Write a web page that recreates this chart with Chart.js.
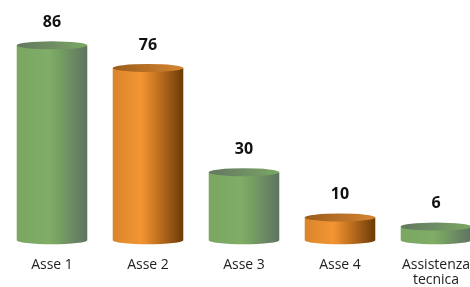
<!DOCTYPE html>
<html><head><meta charset="utf-8">
<script src="https://cdn.jsdelivr.net/npm/chart.js@4/dist/chart.umd.min.js"></script>
<style>
html,body{margin:0;padding:0;background:#fff;overflow:hidden;}
#wrap{width:470px;height:287px;overflow:hidden;position:relative;}
#box{width:490px;height:305px;position:absolute;left:0;top:0;}
</style></head><body>
<div id="wrap"><div id="box"><canvas id="c"></canvas></div></div>
<script>
const categories = [["Asse 1"], ["Asse 2"], ["Asse 3"], ["Asse 4"], ["Assistenza", "tecnica"]];
const values = [86, 76, 30, 10, 6];
const colorKinds = ["green", "orange", "green", "orange", "green"];

const palettes = {
  green: {
    side: [[0, "#79a660"], [0.45, "#80ad67"], [0.6, "#76a062"], [1, "#5f7262"]],
    top: [[0, "#62785f"], [0.5, "#6f8e63"], [1, "#7aa863"]]
  },
  orange: {
    side: [[0, "#d9852c"], [0.4, "#f49534"], [0.65, "#c0701f"], [1, "#6a3a06"]],
    top: [[0, "#9a5c1c"], [0.5, "#b87026"], [1, "#d5862f"]]
  }
};

function grad(ctx, x0, x1, stops) {
  const g = ctx.createLinearGradient(x0, 0, x1, 0);
  stops.forEach(s => g.addColorStop(s[0], s[1]));
  return g;
}

const cylinderPlugin = {
  id: 'cylinders',
  afterDatasetsDraw(chart) {
    const ctx = chart.ctx;
    const meta = chart.getDatasetMeta(0);
    const ry = 4;
    meta.data.forEach((bar, i) => {
      const p = palettes[colorKinds[i]];
      const w = bar.width;
      const l = bar.x - w / 2, r = bar.x + w / 2;
      const rx = w / 2;
      const top = bar.y, base = bar.base;
      ctx.save();
      ctx.beginPath();
      ctx.moveTo(l, top);
      ctx.lineTo(l, base);
      ctx.ellipse(bar.x, base, rx, ry, 0, Math.PI, 0, true);
      ctx.lineTo(r, top);
      ctx.closePath();
      ctx.fillStyle = grad(ctx, l, r, p.side);
      ctx.fill();
      ctx.beginPath();
      ctx.ellipse(bar.x, top, rx, ry, 0, 0, Math.PI * 2);
      ctx.fillStyle = grad(ctx, l, r, p.top);
      ctx.fill();
      ctx.fillStyle = "#111";
      ctx.font = "bold 16px 'Open Sans', sans-serif";
      ctx.textAlign = "center";
      ctx.textBaseline = "middle";
      ctx.fillText(String(values[i]), bar.x, top - 23);
      ctx.restore();
    });
  }
};

new Chart(document.getElementById('c'), {
  type: 'bar',
  data: {
    labels: categories,
    datasets: [{
      data: values,
      backgroundColor: 'rgba(0,0,0,0)',
      borderWidth: 0,
      barPercentage: 0.735,
      categoryPercentage: 1
    }]
  },
  options: {
    responsive: true,
    maintainAspectRatio: false,
    animation: false,
    layout: { padding: { left: 4, right: 6, top: 0, bottom: 0 } },
    plugins: { legend: { display: false }, tooltip: { enabled: false } },
    scales: {
      x: {
        grid: { display: false, drawTicks: false },
        border: { display: false },
        ticks: {
          color: "#222",
          font: { family: "'Open Sans', sans-serif", size: 14, lineHeight: 1.1 },
          padding: 17,
          maxRotation: 0,
          autoSkip: false
        }
      },
      y: { display: false, min: 0, max: 106 }
    }
  },
  plugins: [cylinderPlugin]
});
</script>
</body></html>
